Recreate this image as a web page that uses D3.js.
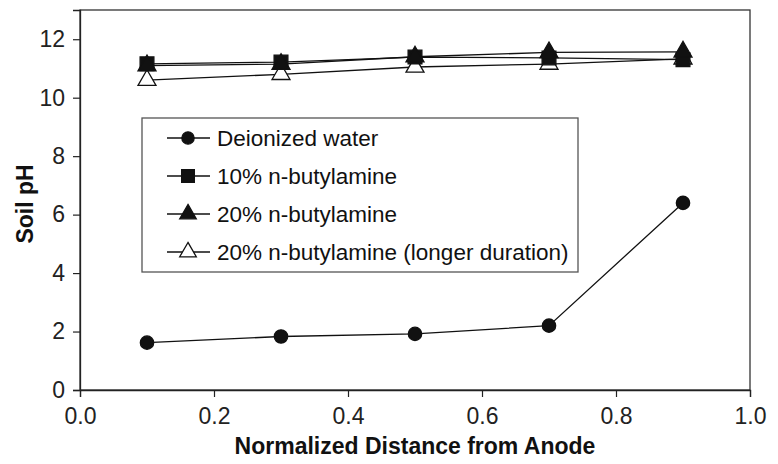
<!DOCTYPE html>
<html><head><meta charset="utf-8">
<script src="https://cdn.jsdelivr.net/npm/d3@7"></script>
<style>body{margin:0;background:#fff}svg{display:block}</style>
</head><body>
<svg id="c" width="778" height="464"></svg>
<script>
const xValues = [0.1, 0.3, 0.5, 0.7, 0.9];
const deionized = [1.62, 1.83, 1.92, 2.2, 6.4];
const butyl10 = [11.16, 11.22, 11.39, 11.36, 11.3];
const butyl20 = [11.1, 11.15, 11.4, 11.55, 11.57];
const butyl20long = [10.6, 10.8, 11.05, 11.15, 11.33];
const seriesNames = ["Deionized water", "10% n-butylamine", "20% n-butylamine", "20% n-butylamine (longer duration)"];
const xTicks = [0, 0.2, 0.4, 0.6, 0.8, 1.0];
const yTicks = [0, 2, 4, 6, 8, 10, 12];

const svg = d3.select("#c");
const m = {l: 80, r: 28, t: 10, b: 74};
const W = 778, H = 464;
const x = d3.scaleLinear().domain([0, 1]).range([m.l, W - m.r]);
const y = d3.scaleLinear().domain([0, 13]).range([H - m.b, m.t]);
const font = "Liberation Sans, Arial, sans-serif";
const ink = "#111";

svg.append("rect").attr("x", x(0)).attr("y", y(13)).attr("width", x(1) - x(0)).attr("height", y(0) - y(13))
  .attr("fill", "none").attr("stroke", "#333").attr("stroke-width", 1.3);

const xa = svg.append("g").attr("transform", `translate(0,${y(0)})`)
  .call(d3.axisBottom(x).tickValues(xTicks).tickFormat(d3.format(".1f")).tickSize(7).tickPadding(11));
const ya = svg.append("g").attr("transform", `translate(${x(0)},0)`)
  .call(d3.axisLeft(y).tickValues(yTicks).tickFormat(d3.format("d")).tickSize(7).tickPadding(8));
[xa, ya].forEach(a => {
  a.select(".domain").attr("stroke", "#222").attr("stroke-width", 1.3);
  a.selectAll(".tick line").attr("stroke", "#222").attr("stroke-width", 1.2);
  a.selectAll(".tick text").attr("font-family", font).attr("font-size", 23).attr("fill", "#222");
});

svg.append("text").attr("x", (x(0) + x(1)) / 2).attr("y", 454).attr("text-anchor", "middle")
  .attr("font-family", font).attr("font-weight", "bold").attr("font-size", 23).attr("fill", "#111")
  .text("Normalized Distance from Anode");
svg.append("text").attr("transform", `translate(33,${(y(0) + y(13)) / 2 + 4}) rotate(-90)`).attr("text-anchor", "middle")
  .attr("font-family", font).attr("font-weight", "bold").attr("font-size", 23).attr("fill", "#111")
  .text("Soil pH");

const series = [
  {vals: deionized, sym: d3.symbolCircle, size: 140, fill: ink},
  {vals: butyl10, sym: d3.symbolSquare, size: 190, fill: ink},
  {vals: butyl20, sym: d3.symbolTriangle, size: 140, fill: ink},
  {vals: butyl20long, sym: d3.symbolTriangle, size: 140, fill: "#fff"}
];
const line = d3.line().x((d, i) => x(xValues[i])).y(d => y(d));
const order = [3, 1, 2, 0];
order.forEach(k => {
  const s = series[k];
  svg.append("path").attr("d", line(s.vals)).attr("fill", "none").attr("stroke", ink).attr("stroke-width", 1.3);
});
order.forEach(k => {
  const s = series[k];
  svg.selectAll(null).data(s.vals).enter().append("path")
    .attr("transform", (d, i) => `translate(${x(xValues[i])},${y(d)})`)
    .attr("d", d3.symbol().type(s.sym).size(s.size))
    .attr("fill", s.fill).attr("stroke", ink).attr("stroke-width", 1.3);
});

const lg = svg.append("g");
lg.append("rect").attr("x", 142).attr("y", 118).attr("width", 436).attr("height", 154)
  .attr("fill", "#fff").attr("stroke", "#555").attr("stroke-width", 1.3);
const rowY = [138, 176, 214, 252];
seriesNames.forEach((name, k) => {
  const s = series[k];
  const yy = rowY[k];
  lg.append("line").attr("x1", 167).attr("x2", 210).attr("y1", yy).attr("y2", yy).attr("stroke", ink).attr("stroke-width", 1.3);
  lg.append("path").attr("transform", `translate(188,${yy})`).attr("d", d3.symbol().type(s.sym).size(s.size * 0.85))
    .attr("fill", s.fill).attr("stroke", ink).attr("stroke-width", 1.3);
  lg.append("text").attr("x", 217).attr("y", yy + 8).attr("font-family", font).attr("font-size", 22.5).attr("fill", "#111").text(name);
});
</script>
</body></html>
